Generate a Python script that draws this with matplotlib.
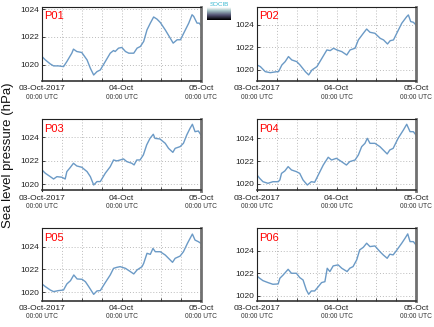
import numpy as np
import matplotlib.pyplot as plt

plt.rcParams['font.family'] = ['Liberation Sans', 'DejaVu Sans']

# hours since 03-Oct-2017 00:00 UTC and pressure (hPa)
p01_h = [0, 1, 2.5, 3.5, 5, 6.5, 7.5, 9, 9.5, 10.5, 12, 13.6, 14.6, 15.6, 16.6, 17.6, 19.1, 20.6, 21.6, 22.1,
         23.1, 24.1, 25.2, 26.2, 27.7, 28.7, 29.7, 30.7, 31.7, 32.7, 33.7, 34.7, 35.7, 37.2, 38.7, 39.6, 40.8,
         41.8, 42.8, 44.3, 45.3, 45.8, 46.8, 47.5, 48]
p01_v = [1020.6, 1020.36, 1020.07, 1019.93, 1019.93, 1019.88, 1020.24, 1020.84, 1021.13, 1020.96, 1020.89,
         1020.36, 1019.76, 1019.28, 1019.52, 1019.64, 1020.24, 1020.84, 1021.03, 1020.96, 1021.2, 1021.25,
         1020.96, 1020.84, 1020.84, 1021.2, 1021.32, 1021.68, 1022.51, 1022.99, 1023.43, 1023.28, 1023.04,
         1022.51, 1021.92, 1021.56, 1021.8, 1021.8, 1022.28, 1022.99, 1023.59, 1023.47, 1022.99, 1022.99, 1022.8]

p02_h = [0, 1, 2.5, 4, 6, 6.5, 7.5, 8.5, 9.5, 10.5, 12, 13, 14.6, 15.6, 16.6, 18.1, 19.6, 21.1, 22.1, 23.1,
         24.1, 25.6, 27.1, 28.1, 29.6, 30.6, 32.1, 33.1, 34.1, 35.6, 37.2, 38.2, 39.4, 40.2, 41.2, 42.7, 43.7,
         45.2, 45.7, 46.4, 47.2, 48]
p02_v = [1020.44, 1020.3, 1019.85, 1019.76, 1019.85, 1019.85, 1020.44, 1020.74, 1021.19, 1020.89, 1020.74,
         1020.44, 1019.85, 1019.56, 1020.0, 1020.3, 1021.04, 1021.78, 1021.72, 1021.93, 1021.78, 1021.63,
         1021.33, 1021.78, 1021.93, 1022.67, 1023.26, 1023.64, 1023.35, 1023.26, 1022.81, 1022.67, 1022.31,
         1022.6, 1022.67, 1023.56, 1024.15, 1024.74, 1024.89, 1024.3, 1024.24, 1024.0]

p03_h = [0, 1, 2.5, 3.5, 4.5, 6, 7, 7.5, 8.5, 9.5, 10.5, 12, 13.6, 14.6, 15.6, 16.6, 17.6, 19.1, 20.6, 21.6,
         22.6, 23.6, 24.6, 25.6, 27.1, 27.8, 28.6, 29.6, 30.6, 31.6, 32.6, 33.6, 34.1, 35.6, 37.2, 38.2, 39.5,
         40.2, 41.7, 42.7, 43.7, 44.7, 45.4, 46.2, 47.2, 48]
p03_v = [1021.22, 1020.94, 1020.65, 1020.45, 1020.65, 1020.6, 1020.45, 1021.08, 1021.42, 1021.79, 1021.56,
         1021.45, 1021.08, 1020.65, 1019.94, 1020.23, 1020.23, 1020.94, 1021.5, 1022.07, 1021.99, 1022.07,
         1022.16, 1021.93, 1021.79, 1021.65, 1022.07, 1022.07, 1022.5, 1023.35, 1023.91, 1024.26, 1023.91,
         1023.86, 1023.49, 1023.06, 1022.72, 1023.06, 1023.21, 1023.49, 1024.2, 1024.77, 1025.11, 1024.48,
         1024.54, 1024.2]

p04_h = [0, 0.8, 1.8, 3.3, 4.8, 6.4, 6.9, 7.4, 8.4, 9.4, 10.4, 11.9, 12.9, 13.9, 15.2, 16.4, 17.4, 18.5, 20,
         21.5, 22.5, 24, 25.5, 27, 28, 29.6, 30.6, 31.6, 32.6, 33.3, 34.1, 35.6, 37.1, 38.1, 39.3, 40.1, 41.1,
         42.6, 44.2, 45.2, 46.2, 47.2, 48]
p04_v = [1020.79, 1020.5, 1020.2, 1020.06, 1020.2, 1020.2, 1020.35, 1020.93, 1021.14, 1021.52, 1021.23,
         1021.08, 1020.93, 1020.35, 1019.91, 1020.2, 1020.15, 1020.79, 1021.66, 1022.34, 1022.1, 1022.25,
         1021.96, 1021.66, 1021.96, 1022.1, 1022.54, 1023.27, 1023.56, 1024.0, 1023.56, 1023.56, 1023.27,
         1022.98, 1022.63, 1022.98, 1023.12, 1024.0, 1024.73, 1025.23, 1024.58, 1024.58, 1024.29]

p05_h = [0, 1, 2.5, 3.5, 5, 6.5, 7.5, 8.6, 9.6, 10.6, 12.1, 13.1, 14.1, 15.6, 16.6, 17.6, 19.1, 20.6, 21.6,
         22.6, 23.6, 25.2, 26.7, 27.7, 28.7, 30.2, 30.7, 31.7, 32.7, 33.5, 34.2, 35.7, 37.2, 38.2, 39.4, 40.2,
         41.7, 42.7, 43.9, 44.7, 45.4, 46.2, 47.2, 48]
p05_v = [1020.73, 1020.5, 1020.2, 1020.06, 1020.15, 1020.2, 1020.73, 1021.02, 1021.52, 1021.17, 1021.14,
         1020.93, 1020.5, 1019.82, 1020.12, 1020.15, 1020.85, 1021.52, 1022.1, 1022.19, 1022.25, 1022.1,
         1021.81, 1021.61, 1021.96, 1022.25, 1022.54, 1023.42, 1023.33, 1023.85, 1023.56, 1023.56, 1023.27,
         1022.98, 1022.63, 1022.98, 1023.18, 1023.56, 1024.29, 1024.73, 1025.11, 1024.58, 1024.44, 1024.29]

p06_h = [0, 0.8, 1.8, 3.3, 4.8, 6.4, 6.9, 7.9, 9.4, 10.4, 11.9, 12.9, 13.9, 14.9, 15.6, 16.4, 17.4, 18.5,
         19.5, 20.5, 21.2, 22, 23, 24.5, 25.6, 27.2, 28, 29, 30.1, 31, 32.1, 33.1, 34.1, 35.6, 37.1, 38.1,
         39.3, 40.1, 41.1, 42.1, 43.7, 44.7, 45.5, 46.2, 47.2, 48]
p06_v = [1021.76, 1021.56, 1021.35, 1021.18, 1021.03, 1021.06, 1021.56, 1021.85, 1022.35, 1022.0, 1022.0,
         1021.62, 1021.41, 1020.53, 1020.15, 1020.44, 1020.44, 1020.82, 1021.18, 1021.26, 1022.44, 1022.15,
         1022.65, 1022.74, 1022.44, 1022.15, 1022.44, 1022.59, 1023.18, 1024.06, 1024.29, 1024.65, 1024.35,
         1024.41, 1023.91, 1023.62, 1023.32, 1023.68, 1023.62, 1024.0, 1024.65, 1025.09, 1025.47, 1024.79,
         1024.79, 1024.5]

names = ['P01', 'P02', 'P03', 'P04', 'P05', 'P06']
hours = [p01_h, p02_h, p03_h, p04_h, p05_h, p06_h]
values = [p01_v, p02_v, p03_v, p04_v, p05_v, p06_v]
ylims = [(1018.85, 1024.18), (1019.02, 1025.64), (1019.47, 1025.56),
         (1019.43, 1025.69), (1019.28, 1025.64), (1019.6, 1025.99)]

tick_hours = [0, 24, 48]
tick_labels = ['03-Oct-2017', '04-Oct', '05-Oct']
y_ticks = [1020, 1022, 1024]

W, H = 435, 327
fig = plt.figure(figsize=(W / 100, H / 100), dpi=100)

# axes boxes in pixels: left, top, right, bottom
cols = [(42, 201), (257, 416)]
rows = [(6.5, 81), (119, 190.5), (228, 300.5)]

for i in range(6):
    c = cols[i % 2]
    r = rows[i // 2]
    ax = fig.add_axes([c[0] / W, 1 - r[1] / H, (c[1] - c[0]) / W, (r[1] - r[0]) / H])
    ax.plot(hours[i], values[i], color='#6b9ac6', lw=1.0)
    ax.set_xlim(0, 48)
    ax.set_ylim(*ylims[i])
    ax.set_xticks(tick_hours)
    ax.set_xticklabels(tick_labels)
    ax.set_xticks(np.arange(6, 48, 6), minor=True)
    ax.set_yticks(y_ticks)
    ax.grid(True, which='both', color='#bbbbbb', ls=(0, (1, 2)), lw=0.7)
    ax.tick_params(axis='both', which='both', direction='in', length=2.5, width=0.6,
                   labelsize=6, pad=2, colors='#222222')
    ax.tick_params(axis='x', which='major', pad=3)
    for s in ['top', 'left']:
        ax.spines[s].set_linewidth(0.8)
        ax.spines[s].set_color('#222222')
    ax.spines['bottom'].set_linewidth(1.2)
    ax.spines['bottom'].set_color('#333333')
    ax.spines['right'].set_linewidth(2.0)
    ax.spines['right'].set_color('#707070')
    for t in tick_hours:
        ax.text(t, -0.22, '00:00 UTC', transform=ax.get_xaxis_transform(),
                ha='center', va='center', fontsize=4.8, color='#333333')
    ax.text(0.012, 0.935, names[i], transform=ax.transAxes, ha='left', va='top',
            fontsize=8, color='red')

fig.text(8 / W, 1 - 155 / H, 'Sea level pressure (hPa)', rotation=90, ha='center', va='center',
         fontsize=9.5, color='#111111')

# small logo box
logo = fig.add_axes([207 / W, 1 - 20 / H, 24 / W, 13 / H])
logo.imshow(np.linspace(0.15, 0.85, 20).reshape(-1, 1), aspect='auto', cmap='bone_r',
            extent=(0, 1, 0, 1))
logo.axis('off')
fig.text(219 / W, 1 - 4 / H, 'SOCIB', ha='center', va='center', fontsize=4.5, color='#38b8d0')

fig.savefig('out.png', dpi=100)
